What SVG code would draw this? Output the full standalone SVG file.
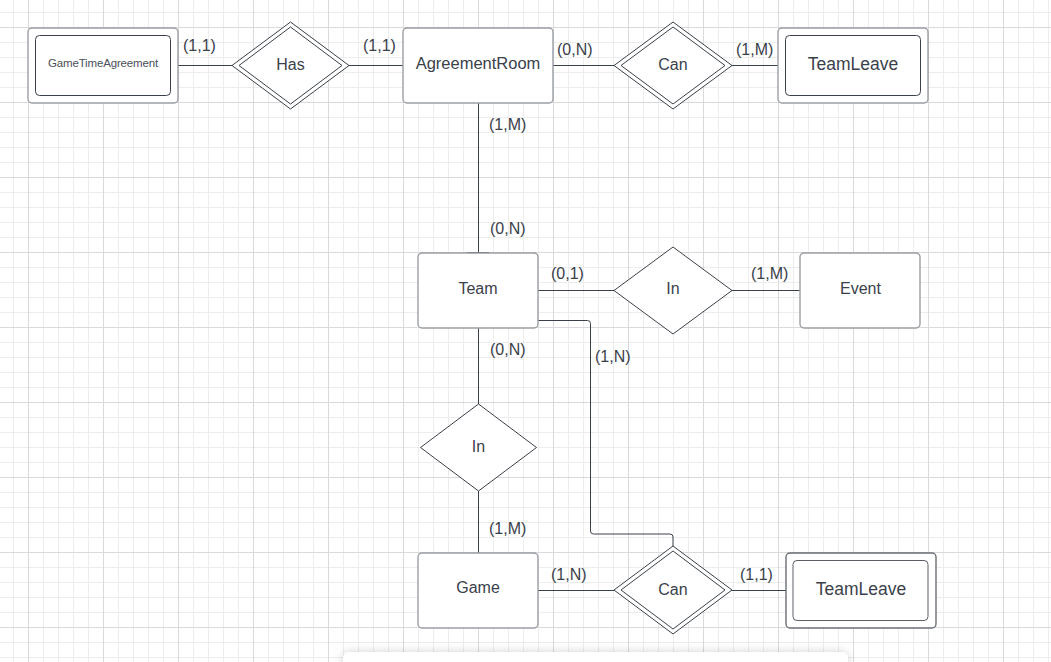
<svg xmlns="http://www.w3.org/2000/svg" width="1051" height="662" viewBox="0 0 1051 662">
  <defs>
    <pattern id="minorGrid" patternUnits="userSpaceOnUse" x="13" y="12" width="15" height="15">
      <path d="M0.5 0V15M0 0.5H15" stroke="#ededed" stroke-width="1" fill="none"/>
    </pattern>
    <pattern id="majorGrid" patternUnits="userSpaceOnUse" x="28" y="27" width="75" height="75">
      <path d="M0.5 0V75M0 0.5H75" stroke="#dadada" stroke-width="1" fill="none"/>
    </pattern>
    <filter id="panelShadow" x="-10%" y="-200%" width="120%" height="500%">
      <feDropShadow dx="0" dy="0" stdDeviation="5" flood-color="#000" flood-opacity="0.18"/>
    </filter>
  </defs>
  <style>
    .entity { fill: #ffffff; stroke: #9a9ea4; stroke-width: 1.4; }
    .inner { fill: #ffffff; stroke: #3a414a; stroke-width: 1; }
    .rel { fill: #ffffff; stroke: #3a414a; stroke-width: 1; stroke-linejoin: round; }
    .link { fill: none; stroke: #3a414a; stroke-width: 1; }
    .name { font-family: "Liberation Sans", Arial, sans-serif; font-size: 16px; fill: #3a414a; text-anchor: middle; }
    .card { font-family: "Liberation Sans", Arial, sans-serif; font-size: 16px; fill: #3a414a; }
    .small { font-size: 11.5px; letter-spacing: -0.15px; fill: #4a5058; }
    .large { font-size: 17.5px; }
  </style>

  <!-- background grid -->
  <rect width="1051" height="662" fill="#ffffff"/>
  <rect width="1051" height="662" fill="url(#minorGrid)"/>
  <rect width="1051" height="662" fill="url(#majorGrid)"/>

  <!-- connectors -->
  <g id="connectors">
    <path class="link" d="M178 65.5H232"/>
    <path class="link" d="M349 65.5H403"/>
    <path class="link" d="M553 65.5H614"/>
    <path class="link" d="M732 65.5H778"/>
    <path class="link" d="M478.5 103V253"/>
    <path class="link" d="M467 252.5H489" stroke-width="1.5"/>
    <path class="link" d="M538 290.5H614"/>
    <path class="link" d="M732 290.5H800"/>
    <path class="link" d="M538 320.5H587.5Q590.5 320.5 590.5 323.5V531Q590.5 534 593.5 534H670Q673 534 673 537V546"/>
    <path class="link" d="M478.5 328V404"/>
    <path class="link" d="M478.5 491V553"/>
    <path class="link" d="M538 590.5H614"/>
    <path class="link" d="M732 590.5H786"/>
  </g>

  <!-- cardinality labels -->
  <g id="cardinalities">
    <text class="card" x="183" y="51">(1,1)</text>
    <text class="card" x="363" y="51">(1,1)</text>
    <text class="card" x="557" y="55">(0,N)</text>
    <text class="card" x="736" y="55">(1,M)</text>
    <text class="card" x="489" y="130">(1,M)</text>
    <text class="card" x="490" y="234">(0,N)</text>
    <text class="card" x="551" y="279">(0,1)</text>
    <text class="card" x="751" y="279">(1,M)</text>
    <text class="card" x="490" y="355">(0,N)</text>
    <text class="card" x="595" y="362">(1,N)</text>
    <text class="card" x="489" y="534">(1,M)</text>
    <text class="card" x="551" y="580">(1,N)</text>
    <text class="card" x="740" y="580">(1,1)</text>
  </g>

  <!-- entities and relationships -->
  <g id="gameTimeAgreement">
    <rect class="entity" x="28" y="28" width="150" height="75" rx="4"/>
    <rect class="inner" x="35.5" y="35.5" width="135" height="60" rx="4"/>
    <text class="name small" x="103" y="67">GameTimeAgreement</text>
  </g>

  <g id="has">
    <path class="rel" d="M290.5 22L349 65.5L290.5 109L232 65.5Z"/>
    <path class="rel" d="M290.5 27L342 65.5L290.5 104L239 65.5Z"/>
    <text class="name" x="290.5" y="70">Has</text>
  </g>

  <g id="agreementRoom">
    <rect class="entity" x="403" y="28" width="150" height="75" rx="4"/>
    <text class="name" x="478" y="69" style="font-size:16.5px">AgreementRoom</text>
  </g>

  <g id="canTop">
    <path class="rel" d="M673 22L732 65.5L673 109L614 65.5Z"/>
    <path class="rel" d="M673 27L725 65.5L673 104L621 65.5Z"/>
    <text class="name" x="673" y="70">Can</text>
  </g>

  <g id="teamLeaveTop">
    <rect class="entity" x="778" y="28" width="150" height="75" rx="4"/>
    <rect class="inner" x="785.5" y="35.5" width="135" height="60" rx="4"/>
    <text class="name large" x="853" y="69.5">TeamLeave</text>
  </g>

  <g id="team">
    <rect class="entity" x="418" y="253" width="120" height="75" rx="4"/>
    <text class="name" x="478" y="293.5">Team</text>
  </g>

  <g id="inEvent">
    <path class="rel" d="M673 247L732 290.5L673 334L614 290.5Z"/>
    <text class="name" x="673" y="294">In</text>
  </g>

  <g id="event">
    <rect class="entity" x="800" y="253" width="120" height="75" rx="4"/>
    <text class="name" x="860.5" y="293.5">Event</text>
  </g>

  <g id="inGame">
    <path class="rel" d="M478.5 404L536.5 447.5L478.5 491L420.5 447.5Z"/>
    <text class="name" x="478.5" y="452">In</text>
  </g>

  <g id="game">
    <rect class="entity" x="418" y="553" width="120" height="75" rx="4"/>
    <text class="name" x="478" y="592.5">Game</text>
  </g>

  <g id="canBottom">
    <path class="rel" d="M673 546L732 590L673 634L614 590Z"/>
    <path class="rel" d="M673 551L725 590L673 629L621 590Z"/>
    <text class="name" x="673" y="594.5">Can</text>
  </g>

  <g id="teamLeaveBottom">
    <rect class="entity" x="786" y="553" width="150" height="75" rx="4" style="stroke:#6a6f76"/>
    <rect class="inner" x="793" y="560.5" width="135" height="60" rx="4" style="stroke:#5a5f66"/>
    <text class="name large" x="861" y="594.5">TeamLeave</text>
  </g>

  <!-- docked panel at the lower edge -->
  <rect x="343" y="652" width="505" height="30" rx="6" fill="#ffffff" filter="url(#panelShadow)"/>
</svg>
